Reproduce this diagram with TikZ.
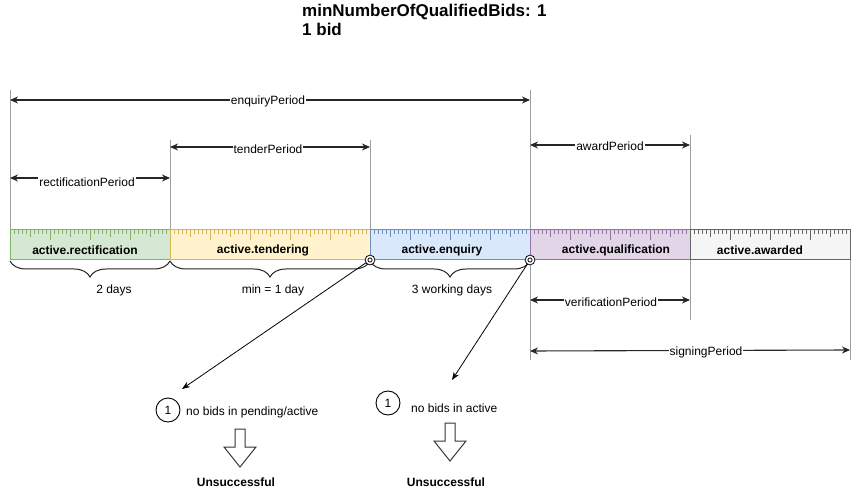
\documentclass[tikz,border=0pt]{standalone}
\usepackage{fontspec}
\setmainfont{Liberation Sans}
\usetikzlibrary{arrows.meta,decorations.pathreplacing}
\definecolor{gF}{HTML}{D5E8D4}\definecolor{gS}{HTML}{82B366}
\definecolor{yF}{HTML}{FFF2CC}\definecolor{yS}{HTML}{D6B656}
\definecolor{bF}{HTML}{DAE8FC}\definecolor{bS}{HTML}{6C8EBF}
\definecolor{pF}{HTML}{E1D5E7}\definecolor{pS}{HTML}{9673A6}
\definecolor{kF}{HTML}{F5F5F5}\definecolor{kS}{HTML}{666666}
\definecolor{guide}{HTML}{A0A0A0}
\tikzset{
  lbl/.style={font=\fontsize{12}{14}\selectfont, inner sep=1pt},
  plbl/.style={lbl, fill=white},
  seglbl/.style={font=\fontsize{12}{14}\selectfont\bfseries, inner sep=0pt},
  guideline/.style={draw=guide, line width=0.9pt},
  period/.style={{Stealth[length=8pt,width=7pt]}-{Stealth[length=8pt,width=7pt]}, line width=1.1pt, draw=black!85},
  brc/.style={decorate, decoration={brace, mirror, amplitude=16pt}, line width=1pt, draw=black!85},
  dcirc/.style={circle, draw=black, double=white, double distance=1.6pt, minimum size=7pt, inner sep=0pt, line width=0.9pt, fill=white},
  numc/.style={circle, draw=black, line width=0.9pt, minimum size=24pt, inner sep=0pt, font=\fontsize{12}{14}\selectfont},
  hollow/.style={draw=black!80, line width=1pt, fill=white},
  conn/.style={-{Stealth[length=8pt,width=6pt]}, line width=0.8pt},
}
\begin{document}
\begin{tikzpicture}[x=1pt,y=-1pt]
\useasboundingbox (0,0) rectangle (862,494);
% title
\node[anchor=north west, align=left, inner sep=0pt, font=\fontsize{17}{19}\selectfont\bfseries] (title) at (302,4) {minNumberOfQualifiedBids: 1\\1 bid};
% guide lines
\draw[guideline] (10,90) -- (10,230);
\draw[guideline] (170,140) -- (170,230);
\draw[guideline] (370,140) -- (370,230);
\draw[guideline] (530,90) -- (530,360);
\draw[guideline] (690,135) -- (690,320);
\draw[guideline] (850,260) -- (850,360);
% segments
\foreach \n/\a/\b/\c/\f/\s/\t in {rect/10/170/85/gF/gS/active.rectification,
  tend/170/370/263/yF/yS/active.tendering,
  enq/370/530/442/bF/bS/active.enquiry,
  qual/530/690/616/pF/pS/active.qualification,
  awd/690/850/760/kF/kS/active.awarded}{
  \fill[\f] (\a,230) rectangle (\b,260);
  \pgfmathtruncatemacro\N{(\b-\a)/4-1}
  \foreach \k in {1,...,\N}{
    \pgfmathsetmacro\L{ifthenelse(mod(\k,10)==0,10,ifthenelse(mod(\k,5)==0,7,4))}
    \draw[\s, line width=0.8pt] (\a+4*\k,230) -- ++(0,\L);
  }
  \draw[\s, line width=1pt] (\a,230) rectangle (\b,260);
  \node[seglbl] (\n) at (\c,250) {\t};
}
% period arrows
\coordinate (eqA) at (10,100); \coordinate (eqB) at (530,100);
\draw[period] (eqA) -- (eqB);
\node[plbl] (eqL) at (268,101) {enquiryPeriod};
\coordinate (tpA) at (170,147); \coordinate (tpB) at (370,147);
\draw[period] (tpA) -- (tpB);
\node[plbl] (tpL) at (268,149) {tenderPeriod};
\coordinate (rpA) at (10,178); \coordinate (rpB) at (170,178);
\draw[period] (rpA) -- (rpB);
\node[plbl] (rpL) at (87,182) {rectificationPeriod};
\coordinate (apA) at (530,145); \coordinate (apB) at (690,145);
\draw[period] (apA) -- (apB);
\node[plbl] (apL) at (610,146) {awardPeriod};
\coordinate (vpA) at (530,300); \coordinate (vpB) at (690,300);
\draw[period] (vpA) -- (vpB);
\node[plbl] (vpL) at (611,302) {verificationPeriod};
\coordinate (spA) at (530,351); \coordinate (spB) at (850,350);
\draw[period] (spA) -- (spB);
\node[plbl] (spL) at (706,352) {signingPeriod};
% braces
\draw[brc] (10,261) -- (170,261);
\draw[brc] (170,261) -- (370,261);
\draw[brc] (370,261) -- (530,261);
\node[lbl] (d1) at (114,290) {2 days};
\node[lbl] (d2) at (273,290) {min = 1 day};
\node[lbl] (d3) at (452,290) {3 working days};
% event circles and connectors
\coordinate (t1) at (182,389);
\coordinate (t2) at (452,380);
\draw[conn] (370,260) -- (t1);
\draw[conn] (530,260) -- (t2);
\node[dcirc] (c1) at (370,260) {};
\node[dcirc] (c2) at (530,260) {};
% outcomes
\node[numc] (n1) at (168,410) {1};
\node[lbl, anchor=west] (o1) at (185,412) {no bids in pending/active};
\node[numc] (n2) at (388,403) {1};
\node[lbl, anchor=west] (o2) at (410,408) {no bids in active};
\draw[hollow] (235,429) -- (245,429) -- (245,447) -- (256,447) -- (240,467) -- (224,447) -- (235,447) -- cycle;
\draw[hollow] (445,423) -- (455,423) -- (455,441) -- (466,441) -- (450,461) -- (434,441) -- (445,441) -- cycle;
\node[seglbl] (u1) at (236,482) {Unsuccessful};
\node[seglbl] (u2) at (446,482) {Unsuccessful};
\end{tikzpicture}
\end{document}
